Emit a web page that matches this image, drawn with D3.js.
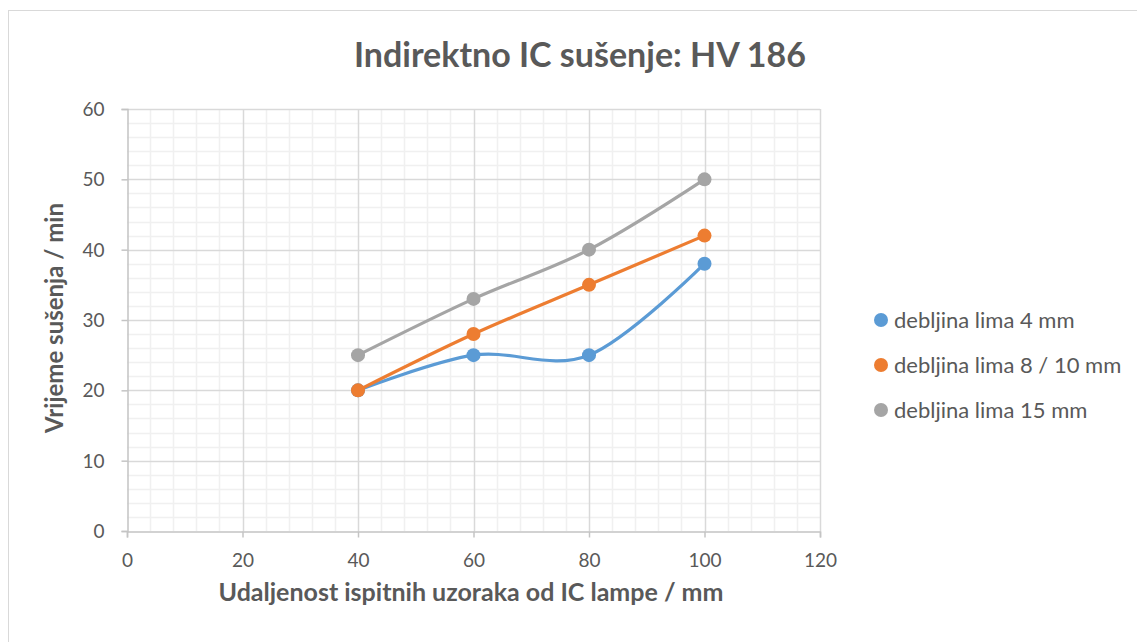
<!DOCTYPE html>
<html>
<head>
<meta charset="utf-8">
<script src="https://cdn.jsdelivr.net/npm/d3@7"></script>
<style>
  html, body { margin: 0; padding: 0; background: #fff; }
  svg text { font-family: "Lato", "Open Sans", sans-serif; fill: #595959; }
</style>
</head>
<body>
<svg id="chart" width="1137" height="642"></svg>
<script>
// Distance of the samples from the IR lamp (mm)
const distances = [40, 60, 80, 100];
// Drying time (min) per sheet thickness
const series4mm = [20, 25, 25, 38];
const series8mm = [20, 28, 35, 42];
const series15mm = [25, 33, 40, 50];
const seriesNames = ["debljina lima 4 mm", "debljina lima 8 / 10 mm", "debljina lima 15 mm"];
const seriesColors = ["#5b9bd5", "#ed7d31", "#a5a5a5"];
const xTicks = [0, 20, 40, 60, 80, 100, 120];
const yTicks = [0, 10, 20, 30, 40, 50, 60];

const chartTitle = "Indirektno IC sušenje: HV 186";
const xTitle = "Udaljenost ispitnih uzoraka od IC lampe / mm";
const yTitle = "Vrijeme sušenja / min";

const svg = d3.select("#chart");

// chart frame
svg.append("rect")
  .attr("x", 8.5).attr("y", 10.5)
  .attr("width", 1140).attr("height", 640)
  .attr("fill", "#fff").attr("stroke", "#d9d9d9").attr("stroke-width", 1);

const plot = { left: 127, right: 820, top: 109, bottom: 531 };

const x = d3.scaleLinear().domain([0, 120]).range([plot.left, plot.right]);
const y = d3.scaleLinear().domain([0, 60]).range([plot.bottom, plot.top]);

// minor gridlines
const xMinor = d3.range(0, 121, 4).filter(v => v % 20 !== 0);
const yMinor = d3.range(0, 61, 2).filter(v => v % 10 !== 0);
const grid = svg.append("g");
grid.selectAll("line.xm").data(xMinor).join("line")
  .attr("x1", d => Math.round(x(d)) + 0.5).attr("x2", d => Math.round(x(d)) + 0.5)
  .attr("y1", plot.top).attr("y2", plot.bottom)
  .attr("stroke", "#f0f0f0").attr("stroke-width", 1.5);
grid.selectAll("line.ym").data(yMinor).join("line")
  .attr("y1", d => Math.round(y(d)) + 0.5).attr("y2", d => Math.round(y(d)) + 0.5)
  .attr("x1", plot.left).attr("x2", plot.right)
  .attr("stroke", "#f0f0f0").attr("stroke-width", 1.5);

// major gridlines
grid.selectAll("line.xM").data(xTicks.slice(1)).join("line")
  .attr("x1", d => Math.round(x(d)) + 0.5).attr("x2", d => Math.round(x(d)) + 0.5)
  .attr("y1", plot.top).attr("y2", plot.bottom)
  .attr("stroke", "#d9d9d9").attr("stroke-width", 1.5);
grid.selectAll("line.yM").data(yTicks.slice(1)).join("line")
  .attr("y1", d => Math.round(y(d)) + 0.5).attr("y2", d => Math.round(y(d)) + 0.5)
  .attr("x1", plot.left).attr("x2", plot.right)
  .attr("stroke", "#d9d9d9").attr("stroke-width", 1.5);

// axes
const xAxis = d3.axisBottom(x).tickValues(xTicks).tickSize(6).tickPadding(16);
const yAxis = d3.axisLeft(y).tickValues(yTicks).tickSize(6).tickPadding(17);

const gx = svg.append("g").attr("transform", `translate(0,${plot.bottom + 0.5})`).call(xAxis);
const gy = svg.append("g").attr("transform", `translate(${plot.left + 0.5},0)`).call(yAxis);
[gx, gy].forEach(g => {
  g.attr("font-size", null).attr("font-family", null);
  g.select(".domain").attr("stroke", "#c4c4c4").attr("stroke-width", 1.5);
  g.selectAll(".tick line").attr("stroke", "#c4c4c4").attr("stroke-width", 1.5);
  g.selectAll(".tick text").attr("font-size", 19).attr("fill", "#595959");
});
gy.selectAll(".tick text").attr("dy", "0.35em");

// series
const seriesData = [series4mm, series8mm, series15mm].map((vals, i) => ({
  name: seriesNames[i],
  color: seriesColors[i],
  points: distances.map((d, j) => ({ x: d, y: vals[j] }))
}));

const line = d3.line().x(d => x(d.x)).y(d => y(d.y)).curve(d3.curveCatmullRom.alpha(0));

const gs = svg.append("g").selectAll("g").data(seriesData).join("g");
gs.append("path")
  .attr("d", d => line(d.points))
  .attr("fill", "none").attr("stroke", d => d.color)
  .attr("stroke-width", 3.2).attr("stroke-linecap", "round");
gs.selectAll("circle").data(d => d.points.map(p => ({ ...p, color: d.color }))).join("circle")
  .attr("cx", d => x(d.x)).attr("cy", d => y(d.y)).attr("r", 7)
  .attr("fill", d => d.color);

// title
svg.append("text")
  .attr("x", 580).attr("y", 67).attr("text-anchor", "middle")
  .attr("font-size", 34).attr("font-weight", "bold")
  .text(chartTitle);

// axis titles
svg.append("text")
  .attr("x", 471).attr("y", 601).attr("text-anchor", "middle")
  .attr("font-size", 25).attr("font-weight", "bold")
  .text(xTitle);
svg.append("text")
  .attr("transform", `translate(63,318) rotate(-90)`)
  .attr("text-anchor", "middle")
  .attr("font-size", 24).attr("font-weight", "bold")
  .text(yTitle);

// legend
const legend = svg.append("g").selectAll("g").data(seriesData).join("g")
  .attr("transform", (d, i) => `translate(881,${320 + i * 45})`);
legend.append("circle").attr("r", 7).attr("fill", d => d.color);
legend.append("text").attr("x", 13).attr("dy", "0.35em")
  .attr("font-size", 22).text(d => d.name);
</script>
</body>
</html>
